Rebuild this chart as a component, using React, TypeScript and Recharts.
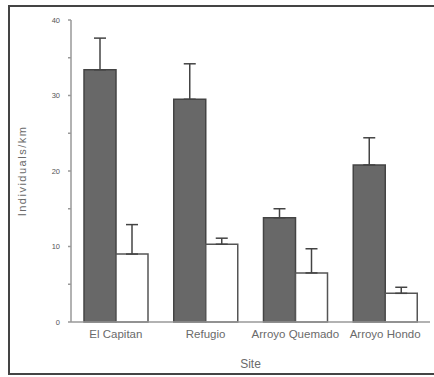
import React from 'react';
import { BarChart, Bar, XAxis, YAxis, ErrorBar } from 'recharts';

const sites = ['El Capitan', 'Refugio', 'Arroyo Quemado', 'Arroyo Hondo'];
const darkValues = [33.4, 29.5, 13.8, 20.8];
const darkErrors = [4.2, 4.7, 1.2, 3.6];
const lightValues = [9.0, 10.3, 6.5, 3.8];
const lightErrors = [3.9, 0.8, 3.2, 0.8];
const yTicks = [0, 5, 10, 15, 20, 25, 30, 35, 40];

const data = sites.map((site, i) => ({
  site,
  dark: darkValues[i],
  darkErr: [0, darkErrors[i]],
  light: lightValues[i],
  lightErr: [0, lightErrors[i]],
}));

const FONT = '"Liberation Sans", Arial, sans-serif';
const TEXT = '#6a6a6a';

const App: React.FC = () => {
  return (
    <div
      style={{
        position: 'absolute',
        left: 0,
        top: 0,
        width: 434,
        height: 377,
        background: '#fff',
        overflow: 'hidden',
      }}
    >
      {/* frame: open on the right like the scan */}
      <div
        style={{
          position: 'absolute',
          left: 8,
          top: 5,
          width: 460,
          height: 366,
          borderTop: '2px solid #444',
          borderLeft: '2px solid #444',
          borderBottom: '2px solid #444',
        }}
      />
      <div style={{ position: 'absolute', left: 0, top: 0 }}>
        <BarChart
          width={434}
          height={377}
          data={data}
          margin={{ top: 20, right: 4, bottom: 0, left: 0 }}
          barCategoryGap={13}
          barGap={0}
        >
          <XAxis
            dataKey="site"
            height={55}
            tickLine={false}
            tickSize={0}
            tickMargin={8}
            stroke="#999"
            strokeWidth={1.5}
            tick={{ fill: TEXT, fontSize: 11.5, fontFamily: FONT }}
            interval={0}
            label={{ value: 'Site', position: 'insideBottom', offset: 9, fill: TEXT, fontSize: 12, fontFamily: FONT }}
          />
          <YAxis
            width={71}
            domain={[0, 40]}
            ticks={yTicks}
            interval={0}
            tickSize={3}
            tickMargin={8}
            stroke="#999"
            strokeWidth={1.5}
            tickFormatter={(v: number) => (v % 10 === 0 ? String(v) : '')}
            tick={{ fill: '#555', fontSize: 7.5, fontFamily: FONT }}
            label={{
              value: 'Individuals/km',
              angle: -90,
              position: 'insideLeft',
              offset: 22,
              fill: TEXT,
              fontSize: 11,
              fontFamily: FONT,
              style: { textAnchor: 'middle', letterSpacing: 1.5 },
            }}
          />
          <Bar dataKey="dark" fill="#686868" stroke="#444" strokeWidth={1.5} isAnimationActive={false}>
            <ErrorBar dataKey="darkErr" width={6} stroke="#444" strokeWidth={1.5} direction="y" />
          </Bar>
          <Bar dataKey="light" fill="#fff" stroke="#555" strokeWidth={1.5} isAnimationActive={false}>
            <ErrorBar dataKey="lightErr" width={6} stroke="#444" strokeWidth={1.5} direction="y" />
          </Bar>
        </BarChart>
      </div>
    </div>
  );
};

export default App;
